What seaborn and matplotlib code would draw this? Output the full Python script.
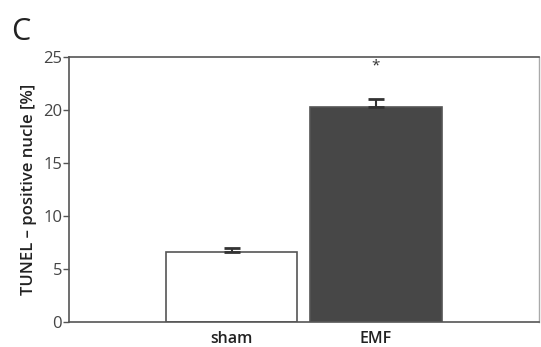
import pandas as pd
import matplotlib.pyplot as plt
import seaborn as sns

# values
groups = ["sham", "EMF"]
tunel_pct = [6.6, 20.3]
tunel_err = [0.4, 0.7]
bar_colors = ["#ffffff", "#474747"]

data = pd.DataFrame({"group": groups, "tunel": tunel_pct})

sns.set_style("white")
plt.rcParams["font.family"] = ["Open Sans", "DejaVu Sans"]

fig = plt.figure(figsize=(5.41, 3.47), dpi=100)
ax = fig.add_axes([0.1275, 0.072, 0.8685, 0.764])

sns.barplot(data=data, x="group", y="tunel", hue="group", palette=bar_colors,
            legend=False, width=0.91, errorbar=None, ax=ax,
            edgecolor="#555555", linewidth=1.2)

# upper error bars only
ax.errorbar(range(len(groups)), tunel_pct, yerr=[[0] * len(groups), tunel_err],
            fmt="none", ecolor="#333333", elinewidth=1.5, capsize=6, capthick=2)

# significance mark
ax.text(1, 24.1, "*", ha="center", va="center", fontsize=11, color="#333333")

ax.set_xlim(-1.13, 2.13)
ax.set_ylim(0, 25)
ax.set_yticks([0, 5, 10, 15, 20, 25])
ax.set_xlabel("")
ax.set_ylabel("TUNEL – positive nucle [%]", fontsize=12, fontweight="semibold",
              color="#222222", labelpad=4)

ax.tick_params(axis="y", left=True, length=4, width=1, color="#555555",
               labelsize=12, labelcolor="#444444", pad=1)
ax.tick_params(axis="x", bottom=False, labelsize=11.5, labelcolor="#222222", pad=3)
for lbl in ax.get_xticklabels():
    lbl.set_fontweight("semibold")

for side in ["left", "bottom", "top"]:
    ax.spines[side].set_color("#555555")
    ax.spines[side].set_linewidth(1.2)
ax.spines["right"].set_color("#aaaaaa")
ax.spines["right"].set_linewidth(1.0)

fig.text(0.02, 0.885, "C", fontsize=22, color="#222222")

fig.savefig("out.png", dpi=100)
